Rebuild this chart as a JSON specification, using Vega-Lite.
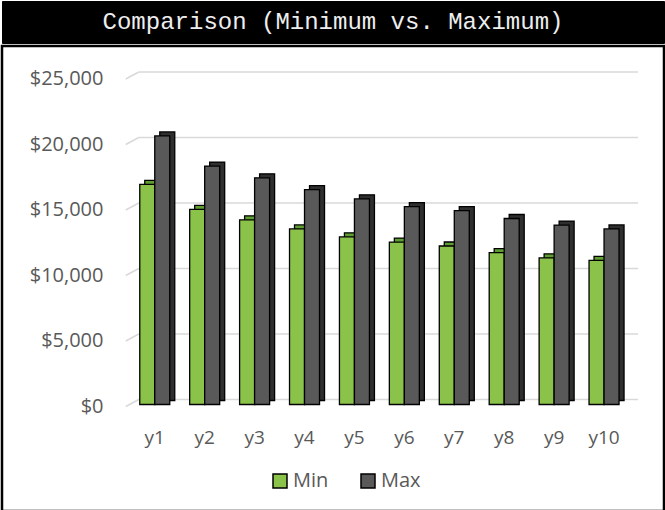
{
  "$schema": "https://vega.github.io/schema/vega-lite/v6.json",
  "background": "white",
  "padding": 0,
  "spacing": 0,
  "config": {"view": {"stroke": null}},
  "datasets": {
    "bars": [
      {"year": "y1", "series": "Min", "value": 16800},
      {"year": "y1", "series": "Max", "value": 20500},
      {"year": "y2", "series": "Min", "value": 14900},
      {"year": "y2", "series": "Max", "value": 18200},
      {"year": "y3", "series": "Min", "value": 14100},
      {"year": "y3", "series": "Max", "value": 17300},
      {"year": "y4", "series": "Min", "value": 13400},
      {"year": "y4", "series": "Max", "value": 16400},
      {"year": "y5", "series": "Min", "value": 12800},
      {"year": "y5", "series": "Max", "value": 15700},
      {"year": "y6", "series": "Min", "value": 12400},
      {"year": "y6", "series": "Max", "value": 15100},
      {"year": "y7", "series": "Min", "value": 12100},
      {"year": "y7", "series": "Max", "value": 14800},
      {"year": "y8", "series": "Min", "value": 11600},
      {"year": "y8", "series": "Max", "value": 14200},
      {"year": "y9", "series": "Min", "value": 11200},
      {"year": "y9", "series": "Max", "value": 13700},
      {"year": "y10", "series": "Min", "value": 11000},
      {"year": "y10", "series": "Max", "value": 13400}
    ],
    "grid": [{"g": 0}, {"g": 5000}, {"g": 10000}, {"g": 15000}, {"g": 20000}, {"g": 25000}]
  },
  "vconcat": [
    {
      "width": 662,
      "height": 42,
      "view": {"fill": "black", "stroke": "black"},
      "data": {"values": [{"title": "Comparison (Minimum vs. Maximum)"}]},
      "mark": {"type": "text", "font": "Liberation Mono", "fontSize": 24, "color": "#eeeeee", "align": "center", "baseline": "middle"},
      "encoding": {"text": {"field": "title", "type": "nominal"}}
    },
    {
      "width": 662,
      "height": 465,
      "view": {"fill": "white", "stroke": "black", "strokeWidth": 2.5},
      "encoding": {
        "x": {
          "field": "year", "type": "nominal",
          "scale": {"type": "band", "domain": ["y1","y2","y3","y4","y5","y6","y7","y8","y9","y10"], "paddingInner": 0, "paddingOuter": 0, "range": [127.8, 627.0]},
          "axis": {"orient": "bottom", "offset": -83, "domain": false, "ticks": false, "labelPadding": 0, "labelAngle": 0, "labelFont": "Open Sans", "labelFontSize": 19, "labelColor": "#595959", "title": null, "grid": false}
        },
        "y": {
          "field": "value", "type": "quantitative",
          "scale": {"domain": [-8130, 27366], "nice": false, "zero": false},
          "axis": {"orient": "left", "offset": -101, "values": [0, 5000, 10000, 15000, 20000, 25000], "format": "$,.0f", "domain": false, "ticks": false, "grid": false, "labelPadding": 0, "labelOffset": 2, "labelFont": "Open Sans", "labelFontSize": 20, "labelColor": "#595959", "title": null}
        }
      },
      "layer": [
        {
          "data": {"name": "grid"},
          "mark": {"type": "rule", "color": "#d9d9d9", "strokeWidth": 1.5, "xOffset": -16, "x2Offset": 34, "yOffset": -5},
          "encoding": {
            "x": {"datum": "y1", "type": "nominal", "scale": {"type": "band", "domain": ["y1","y2","y3","y4","y5","y6","y7","y8","y9","y10"], "paddingInner": 0, "paddingOuter": 0, "range": [127.8, 627.0]}},
            "x2": {"datum": "y10"},
            "y": {"field": "g", "type": "quantitative"}
          }
        },
        {
          "data": {"name": "grid"},
          "mark": {"type": "rule", "color": "#d9d9d9", "strokeWidth": 1.5, "xOffset": -29, "x2Offset": -16, "yOffset": 2, "y2Offset": -5},
          "encoding": {
            "x": {"datum": "y1", "type": "nominal", "scale": {"type": "band", "domain": ["y1","y2","y3","y4","y5","y6","y7","y8","y9","y10"], "paddingInner": 0, "paddingOuter": 0, "range": [127.8, 627.0]}},
            "x2": {"datum": "y1"},
            "y": {"field": "g", "type": "quantitative"},
            "y2": {"field": "g"}
          }
        },
        {
          "data": {"name": "bars"},
          "transform": [{"filter": "datum.series === 'Min'"}],
          "mark": {"type": "bar", "width": 15, "xOffset": -2.5, "yOffset": -4, "color": "#5e9e30", "stroke": "black", "strokeWidth": 1.3}
        },
        {
          "data": {"name": "bars"},
          "transform": [{"filter": "datum.series === 'Max'"}],
          "mark": {"type": "bar", "width": 15, "xOffset": 12.5, "yOffset": -4, "color": "#2f2f2f", "stroke": "black", "strokeWidth": 1.3}
        },
        {
          "data": {"name": "bars"},
          "transform": [{"filter": "datum.series === 'Min'"}],
          "mark": {"type": "bar", "width": 15, "xOffset": -7.5, "stroke": "black", "strokeWidth": 1.3, "opacity": 1},
          "encoding": {
            "color": {"field": "series", "type": "nominal", "scale": {"domain": ["Min", "Max"], "range": ["#8bc34a", "#595959"]},
              "legend": {"orient": "none", "legendX": 268, "legendY": 470, "direction": "horizontal", "title": null, "symbolType": "square", "symbolSize": 196, "symbolStrokeColor": "black", "symbolStrokeWidth": 1.5, "symbolOpacity": 1, "labelFont": "Open Sans", "labelFontSize": 20, "labelColor": "#595959", "labelOffset": 3, "columnPadding": 29}}
          }
        },
        {
          "data": {"name": "bars"},
          "transform": [{"filter": "datum.series === 'Max'"}],
          "mark": {"type": "bar", "width": 15, "xOffset": 7.5, "stroke": "black", "strokeWidth": 1.3, "opacity": 1},
          "encoding": {
            "color": {"field": "series", "type": "nominal"}
          }
        }
      ]
    }
  ]
}
